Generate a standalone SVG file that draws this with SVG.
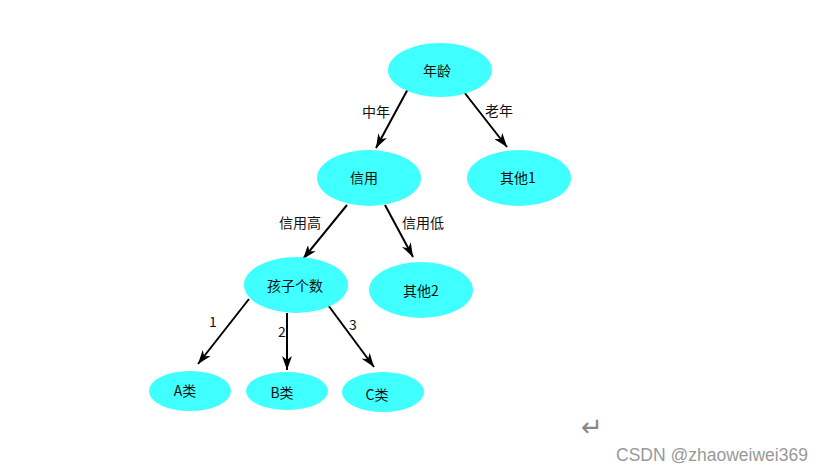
<svg xmlns="http://www.w3.org/2000/svg" width="826" height="471" viewBox="0 0 826 471">
<defs>
<marker id="ah" viewBox="0 0 14 10" refX="14" refY="5" markerWidth="14" markerHeight="10" markerUnits="userSpaceOnUse" orient="auto">
<path d="M0,0 L14,5 L0,10 L4,5 z" fill="#000"/>
</marker>
<style>
.n{fill:#40FFFF;stroke:none}
.t{font-family:"Microsoft YaHei","Noto Sans CJK SC",sans-serif;font-size:14px;fill:#111;text-anchor:middle;dominant-baseline:central}
.e{stroke:#000;stroke-width:2;fill:none;marker-end:url(#ah)}
</style>
</defs>
<rect width="826" height="471" fill="#fff"/>
<g id="connectors">
<line class="e" x1="409" y1="87" x2="376" y2="148"/>
<line class="e" x1="464" y1="92" x2="507" y2="147"/>
<line class="e" x1="347" y1="205" x2="303" y2="259"/>
<line class="e" x1="385" y1="205" x2="413" y2="257"/>
<line class="e" x1="249" y1="299" x2="198" y2="364"/>
<line class="e" x1="287" y1="313" x2="287" y2="370"/>
<line class="e" x1="328" y1="305" x2="374" y2="367"/>
<text class="t" x="376" y="111">中年</text>
<text class="t" x="499" y="110">老年</text>
<text class="t" x="300" y="222">信用高</text>
<text class="t" x="423" y="222">信用低</text>
<text class="t" x="213" y="321" font-size="15">1</text>
<text class="t" x="282" y="331" font-size="15">2</text>
<text class="t" x="353" y="324" font-size="15">3</text>
</g>
<g id="n1"><ellipse class="n" cx="440" cy="70" rx="52" ry="27"/><text class="t" x="437" y="70">年龄</text></g>
<g id="n2"><ellipse class="n" cx="369" cy="178" rx="52" ry="28"/><text class="t" x="364" y="177">信用</text></g>
<g id="n3"><ellipse class="n" cx="519" cy="178" rx="52" ry="28"/><text class="t" x="518" y="177">其他1</text></g>
<g id="n4"><ellipse class="n" cx="296" cy="285" rx="52" ry="28"/><text class="t" x="295" y="285">孩子个数</text></g>
<g id="n5"><ellipse class="n" cx="421" cy="290" rx="52" ry="28"/><text class="t" x="421" y="290">其他2</text></g>
<g id="n6"><ellipse class="n" cx="190" cy="391" rx="41" ry="20"/><text class="t" x="185" y="390">A类</text></g>
<g id="n7"><ellipse class="n" cx="287" cy="391" rx="41" ry="19"/><text class="t" x="282" y="392">B类</text></g>
<g id="n8"><ellipse class="n" cx="383" cy="392" rx="41" ry="20"/><text class="t" x="377" y="394">C类</text></g>
<text x="592" y="436" font-family="'DejaVu Sans',sans-serif" font-size="26" fill="#888" text-anchor="middle">↵</text>
<text x="712" y="461" font-family="'Liberation Sans',Arial,sans-serif" font-size="17.5" fill="#999" text-anchor="middle">CSDN @zhaoweiwei369</text>
</svg>
